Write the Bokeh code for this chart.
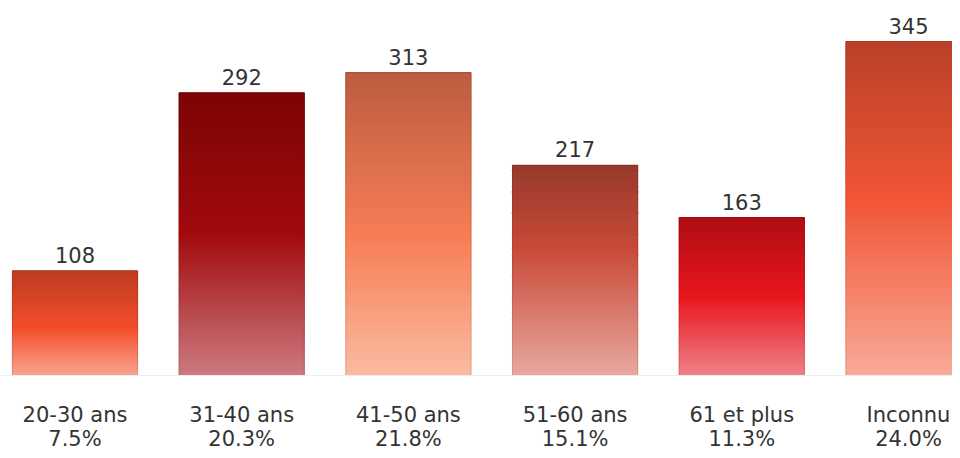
from bokeh.plotting import figure
from bokeh.models import ColumnDataSource, Range1d, Span
from bokeh.core.properties import value
from bokeh.embed import file_html
from bokeh.resources import INLINE

# ---- data ----
categories = ["20-30 ans", "31-40 ans", "41-50 ans", "51-60 ans", "61 et plus", "Inconnu"]
counts = [108, 292, 313, 217, 163, 345]
percents = ["7.5%", "20.3%", "21.8%", "15.1%", "11.3%", "24.0%"]

# ---- style: gradient stops per bar (top, middle, bottom) and middle position ----
grad_top = ["#BC3C22", "#7C0404", "#BC5C40", "#973A2C", "#AE0E14", "#B84028"]
grad_mid = ["#F24E2C", "#A20A0C", "#F77E56", "#C84A38", "#E8161E", "#F15535"]
grad_bot = ["#F9A48E", "#CB7A80", "#FABBA2", "#E8A8A0", "#F08088", "#F8AA98"]
grad_pos = [0.55, 0.50, 0.55, 0.40, 0.50, 0.47]

FONT = "DejaVu Sans"
TEXT_COLOR = "#333333"
BAR_W = 0.75
N_SLICES = 220


def hex2rgb(h):
    h = h.lstrip("#")
    return [int(h[i:i + 2], 16) for i in (0, 2, 4)]


def mix(a, b, t):
    ra, rb = hex2rgb(a), hex2rgb(b)
    return "#%02x%02x%02x" % tuple(int(round(x + (y - x) * t)) for x, y in zip(ra, rb))


def grad_color(i, t):
    m = grad_pos[i]
    if t <= m:
        return mix(grad_top[i], grad_mid[i], t / m)
    return mix(grad_mid[i], grad_bot[i], (t - m) / (1 - m))


xs = list(range(len(categories)))

p = figure(width=952, height=450, output_backend="svg", toolbar_location=None,
           x_range=Range1d(-0.447, 5.264), y_range=Range1d(-77.5, 387.4),
           min_border=0, min_border_left=0, min_border_right=0,
           min_border_top=0, min_border_bottom=0)
p.axis.visible = False
p.grid.visible = False
p.outline_line_color = None
p.background_fill_color = "white"
p.border_fill_color = "white"

# faint baseline
p.add_layout(Span(location=0, dimension="width", line_color="#EEEEEE", line_width=1))

# gradient bars as stacked slices
left, right, bottom, top, color = [], [], [], [], []
for i, (x, v) in enumerate(zip(xs, counts)):
    for k in range(N_SLICES):
        t0 = k / N_SLICES
        t1 = (k + 1) / N_SLICES
        left.append(x - BAR_W / 2)
        right.append(x + BAR_W / 2)
        top.append(v * (1 - t0))
        bottom.append(v * (1 - t1))
        color.append(grad_color(i, (t0 + t1) / 2))
src = ColumnDataSource(dict(left=left, right=right, bottom=bottom, top=top, color=color))
p.quad(left="left", right="right", bottom="bottom", top="top", source=src,
       fill_color="color", line_color="color", line_width=1.2)

# thin outline around each bar
p.vbar(x=xs, top=counts, width=BAR_W, fill_color=None,
       line_color="#000000", line_alpha=0.10, line_width=1)

# value labels
lab = ColumnDataSource(dict(x=xs, y=counts, t=[str(c) for c in counts],
                            cat=categories, pct=percents, zero=[0] * len(xs)))
p.text(x="x", y="y", text="t", source=lab, text_align="center", text_baseline="bottom",
       y_offset=-8, text_font=value(FONT), text_font_size="21px", text_color=TEXT_COLOR)

# category labels (two lines)
p.text(x="x", y="zero", text="cat", source=lab, text_align="center", text_baseline="middle",
       y_offset=40, text_font=value(FONT), text_font_size="21px", text_color=TEXT_COLOR)
p.text(x="x", y="zero", text="pct", source=lab, text_align="center", text_baseline="middle",
       y_offset=64, text_font=value(FONT), text_font_size="21px", text_color=TEXT_COLOR)

open("out.html", "w").write(file_html(p, INLINE))
